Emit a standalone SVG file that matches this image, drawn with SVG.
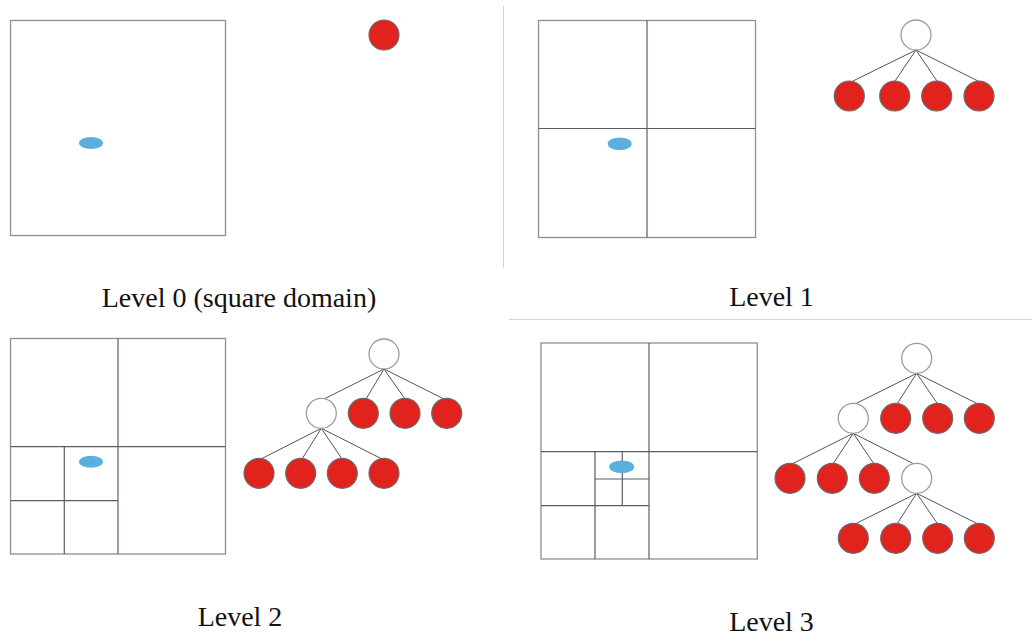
<svg xmlns="http://www.w3.org/2000/svg" width="1032" height="637" viewBox="0 0 1032 637">
<style>
.bg{fill:#ffffff}
.dom{fill:none;stroke:#8e8e93;stroke-width:1.3}
.grid{fill:none;stroke:#5a5d68;stroke-width:1.2}
.pt{fill:#5aafdf}
.leaf{fill:#e2231d;stroke:#6a6a6a;stroke-width:1.2}
.inner{fill:#ffffff;stroke:#9a9a9e;stroke-width:1.3}
.edge{stroke:#555555;stroke-width:1;fill:none}
.div{stroke:#d4d4d4;stroke-width:1}
.lbl{font-family:"Liberation Serif","DejaVu Serif",serif;font-size:28px;fill:#111;text-anchor:middle}
</style>
<rect class="bg" x="0" y="0" width="1032" height="637"/>
<g id="dividers">
<line class="div" x1="503.5" y1="6" x2="503.5" y2="268"/>
<line class="div" x1="509" y1="319.5" x2="1032" y2="319.5" stroke="#e8e8e8"/>
</g>
<g id="panel0">
<rect class="dom" x="10.5" y="20.5" width="215" height="215"/>
<ellipse class="pt" cx="91" cy="143" rx="12" ry="6"/>
</g>
<g id="tree0">
<circle id="t0-root" class="leaf" cx="384" cy="35" r="15"/>
</g>
<text id="label0" class="lbl" x="239" y="307">Level 0 (square domain)</text>
<g id="panel1">
<rect class="dom" x="538.5" y="20.5" width="217" height="217"/>
<line class="grid" x1="647" y1="20.5" x2="647" y2="237.5"/>
<line class="grid" x1="538.5" y1="128.5" x2="755.5" y2="128.5"/>
<ellipse class="pt" cx="619.7" cy="143.7" rx="12" ry="6.3"/>
</g>
<g id="connectors1">
<line class="edge" x1="916" y1="50" x2="853" y2="81"/>
<line class="edge" x1="916" y1="50" x2="895" y2="81"/>
<line class="edge" x1="916" y1="50" x2="937" y2="81"/>
<line class="edge" x1="916" y1="50" x2="978" y2="81"/>
</g>
<g id="tree1">
<circle id="t1-root" class="inner" cx="916" cy="35" r="15"/>
<circle id="t1-a" class="leaf" cx="849.3" cy="96" r="15"/>
<circle id="t1-b" class="leaf" cx="894.7" cy="96" r="15"/>
<circle id="t1-c" class="leaf" cx="936.7" cy="96" r="15"/>
<circle id="t1-d" class="leaf" cx="979" cy="96" r="15"/>
</g>
<text id="label1" class="lbl" x="771.5" y="306">Level 1</text>
<g id="panel2">
<rect class="dom" x="10.5" y="338.5" width="215" height="215.5"/>
<line class="grid" x1="118" y1="338.5" x2="118" y2="554"/>
<line class="grid" x1="10.5" y1="446.7" x2="225.5" y2="446.7"/>
<line class="grid" x1="64.3" y1="446.7" x2="64.3" y2="554"/>
<line class="grid" x1="10.5" y1="500.7" x2="118" y2="500.7"/>
<ellipse class="pt" cx="91" cy="461.7" rx="12" ry="6"/>
</g>
<g id="connectors2">
<line class="edge" x1="384" y1="369" x2="324" y2="399"/>
<line class="edge" x1="384" y1="369" x2="366" y2="399"/>
<line class="edge" x1="384" y1="369" x2="405" y2="399"/>
<line class="edge" x1="384" y1="369" x2="444" y2="399"/>
<line class="edge" x1="321.3" y1="428.3" x2="261" y2="459"/>
<line class="edge" x1="321.3" y1="428.3" x2="302" y2="459"/>
<line class="edge" x1="321.3" y1="428.3" x2="342" y2="459"/>
<line class="edge" x1="321.3" y1="428.3" x2="382" y2="459"/>
</g>
<g id="tree2">
<circle id="t2-root" class="inner" cx="384" cy="354" r="15"/>
<circle id="t2-a" class="inner" cx="321.3" cy="413.3" r="15"/>
<circle id="t2-b" class="leaf" cx="363.3" cy="413.3" r="15"/>
<circle id="t2-c" class="leaf" cx="405" cy="413.3" r="15"/>
<circle id="t2-d" class="leaf" cx="446.7" cy="413.3" r="15"/>
<circle id="t2-aa" class="leaf" cx="259" cy="473.3" r="15"/>
<circle id="t2-ab" class="leaf" cx="300.7" cy="473.3" r="15"/>
<circle id="t2-ac" class="leaf" cx="342.3" cy="473.3" r="15"/>
<circle id="t2-ad" class="leaf" cx="384" cy="473.3" r="15"/>
</g>
<text id="label2" class="lbl" x="240" y="626">Level 2</text>
<g id="panel3">
<rect class="dom" x="541" y="343" width="216.3" height="216"/>
<line class="grid" x1="649" y1="343" x2="649" y2="559"/>
<line class="grid" x1="541" y1="451.7" x2="757.3" y2="451.7"/>
<line class="grid" x1="595" y1="451.7" x2="595" y2="559"/>
<line class="grid" x1="541" y1="505.7" x2="649" y2="505.7"/>
<line class="grid" x1="622.3" y1="451.7" x2="622.3" y2="505.7"/>
<line class="grid" x1="595" y1="479" x2="649" y2="479"/>
<ellipse class="pt" cx="621.7" cy="466.7" rx="12.5" ry="6.3"/>
</g>
<g id="connectors3">
<line class="edge" x1="916.7" y1="373.3" x2="855" y2="404"/>
<line class="edge" x1="916.7" y1="373.3" x2="897" y2="404"/>
<line class="edge" x1="916.7" y1="373.3" x2="937.7" y2="404"/>
<line class="edge" x1="916.7" y1="373.3" x2="978" y2="404"/>
<line class="edge" x1="853.3" y1="433.3" x2="792" y2="464"/>
<line class="edge" x1="853.3" y1="433.3" x2="833" y2="464"/>
<line class="edge" x1="853.3" y1="433.3" x2="874" y2="464"/>
<line class="edge" x1="853.3" y1="433.3" x2="914" y2="464"/>
<line class="edge" x1="916.7" y1="493.3" x2="855" y2="524"/>
<line class="edge" x1="916.7" y1="493.3" x2="897" y2="524"/>
<line class="edge" x1="916.7" y1="493.3" x2="937.7" y2="524"/>
<line class="edge" x1="916.7" y1="493.3" x2="978" y2="524"/>
</g>
<g id="tree3">
<circle id="t3-root" class="inner" cx="916.7" cy="358.3" r="15"/>
<circle id="t3-a" class="inner" cx="853.3" cy="418.3" r="15"/>
<circle id="t3-b" class="leaf" cx="895.7" cy="418.3" r="15"/>
<circle id="t3-c" class="leaf" cx="937.7" cy="418.3" r="15"/>
<circle id="t3-d" class="leaf" cx="979.3" cy="418.3" r="15"/>
<circle id="t3-aa" class="leaf" cx="790" cy="478.3" r="15"/>
<circle id="t3-ab" class="leaf" cx="832.3" cy="478.3" r="15"/>
<circle id="t3-ac" class="leaf" cx="874.3" cy="478.3" r="15"/>
<circle id="t3-ad" class="inner" cx="916.7" cy="478.3" r="15"/>
<circle id="t3-ada" class="leaf" cx="853.3" cy="538.3" r="15"/>
<circle id="t3-adb" class="leaf" cx="895.7" cy="538.3" r="15"/>
<circle id="t3-adc" class="leaf" cx="937.7" cy="538.3" r="15"/>
<circle id="t3-add" class="leaf" cx="979.3" cy="538.3" r="15"/>
</g>
<text id="label3" class="lbl" x="771.5" y="631">Level 3</text>
</svg>
